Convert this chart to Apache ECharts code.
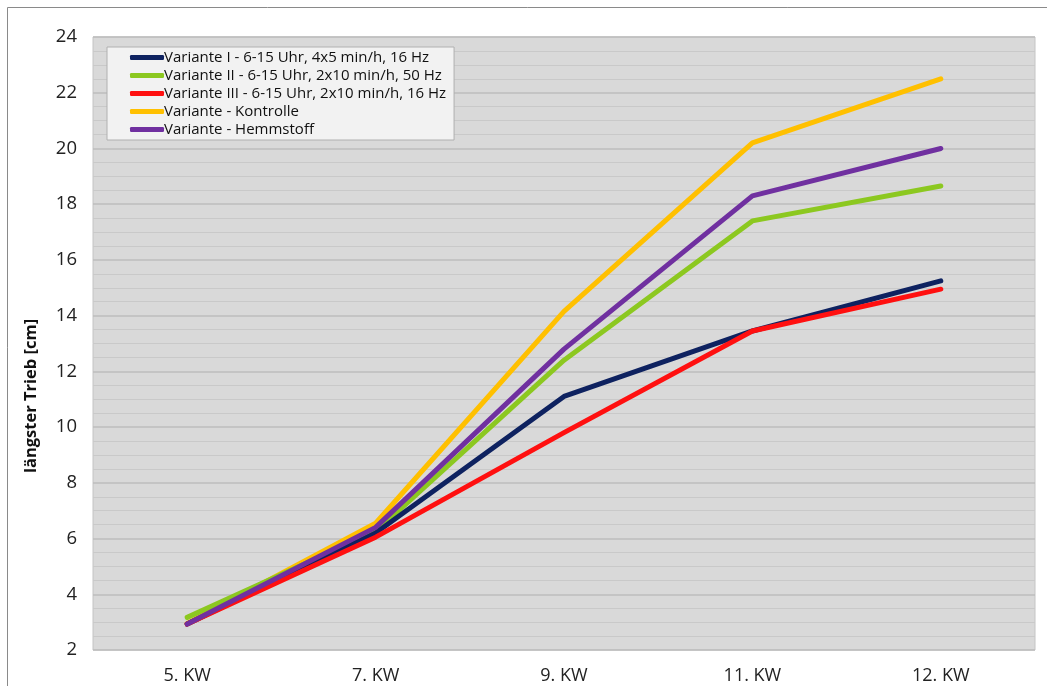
<!DOCTYPE html>
<html lang="de">
<head>
    <meta charset="utf-8">
    <title>längster Trieb</title>
    <script src="https://cdn.jsdelivr.net/npm/echarts@6/dist/echarts.min.js"></script>
    <style>
        html, body { margin: 0; padding: 0; background: #fff; }
        #chart { width: 1047px; height: 686px; }
    </style>
</head>
<body>
    <div id="chart"></div>
    <script>
        // Kalenderwochen
        const weeks = ['5. KW', '7. KW', '9. KW', '11. KW', '12. KW'];

        // längster Trieb [cm] je Variante
        const variante1 = [2.93, 6.2, 11.1, 13.45, 15.25];
        const variante2 = [3.17, 6.25, 12.4, 17.4, 18.65];
        const variante3 = [2.93, 6.05, 9.8, 13.45, 14.95];
        const kontrolle = [2.95, 6.55, 14.15, 20.2, 22.5];
        const hemmstoff = [2.93, 6.4, 12.8, 18.3, 20.0];

        const names = [
            'Variante I - 6-15 Uhr, 4x5 min/h, 16 Hz',
            'Variante II - 6-15 Uhr, 2x10 min/h, 50 Hz',
            'Variante III - 6-15 Uhr, 2x10 min/h, 16 Hz',
            'Variante - Kontrolle',
            'Variante - Hemmstoff'
        ];
        const colors = ['#0e2260', '#8cc820', '#ff1010', '#ffc000', '#7030a0'];
        const values = [variante1, variante2, variante3, kontrolle, hemmstoff];

        const chart = echarts.init(document.getElementById('chart'));

        // draw order: Kontrolle, Hemmstoff, II, I, III on top at the start
        const order = [3, 1, 0, 2, 4];
        const series = order.map(function (i) {
            return {
                name: names[i],
                type: 'line',
                data: values[i],
                symbol: 'none',
                color: colors[i],
                lineStyle: { width: 5, color: colors[i], cap: 'round', join: 'round' }
            };
        });

        const option = {
            animation: false,
            textStyle: { fontFamily: '"Open Sans", sans-serif' },
            graphic: [
                {
                    type: 'rect',
                    shape: { x: 7.5, y: 7.5, width: 1100, height: 700 },
                    style: { fill: 'none', stroke: '#8a8a8a', lineWidth: 1 }
                },
                {
                    type: 'text',
                    x: 31, y: 396,
                    rotation: Math.PI / 2,
                    style: {
                        text: 'längster Trieb [cm]',
                        font: 'bold 16.5px "Open Sans", sans-serif',
                        fill: '#111',
                        align: 'center',
                        verticalAlign: 'middle'
                    }
                }
            ],
            legend: {
                orient: 'vertical',
                left: 107,
                top: 47,
                data: names,
                icon: 'roundRect',
                itemWidth: 34,
                itemHeight: 5,
                itemGap: 3,
                padding: [3, 8, 3, 23],
                backgroundColor: '#f2f2f2',
                borderColor: '#b0b0b0',
                borderWidth: 1,
                textStyle: { fontSize: 15, lineHeight: 14, color: '#111', padding: [0, 0, 0, -5] }
            },
            grid: {
                left: 93,
                top: 37,
                right: 12,
                bottom: 36,
                show: true,
                backgroundColor: '#d9d9d9',
                borderColor: '#c4c4c4',
                borderWidth: 1
            },
            xAxis: {
                type: 'category',
                data: weeks,
                boundaryGap: true,
                axisLine: { show: false },
                axisTick: { show: false },
                axisLabel: { fontSize: 18, color: '#222', margin: 17 }
            },
            yAxis: {
                type: 'value',
                min: 2,
                max: 24,
                interval: 2,
                axisLine: { show: false },
                axisTick: { show: false },
                axisLabel: { fontSize: 18.5, color: '#222', margin: 16 },
                splitLine: { lineStyle: { color: '#bcbcbc', width: 1.5 } },
                minorTick: { show: false, splitNumber: 4 },
                minorSplitLine: { show: true, lineStyle: { color: '#c9c9c9', width: 1 } }
            },
            series: series
        };

        chart.setOption(option);
    </script>
</body>
</html>
